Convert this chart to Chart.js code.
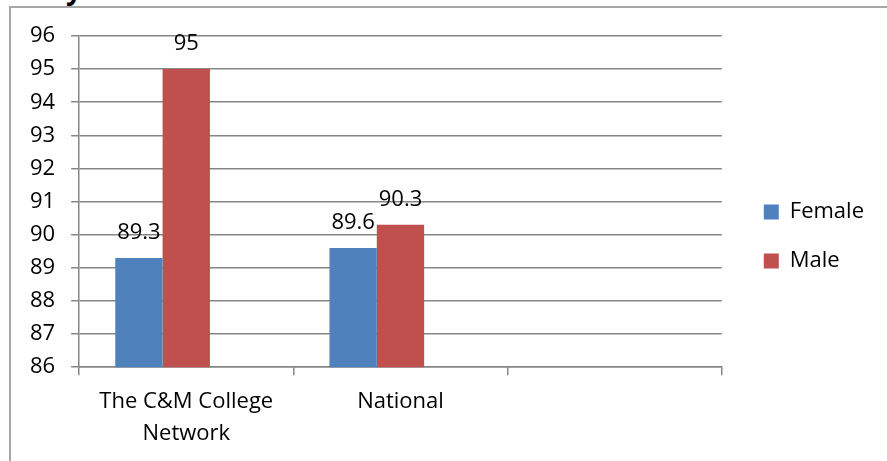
<!DOCTYPE html>
<html>
<head>
<meta charset="utf-8">
<script src="https://cdn.jsdelivr.net/npm/chart.js@4"></script>
<style>
  html, body { margin: 0; padding: 0; background: #fff; }
  #wrap { position: relative; width: 887px; height: 461px; overflow: hidden; }
  #frame { position: absolute; left: 9px; top: 6px; width: 900px; height: 500px;
           border-top: 2px solid #a6a6a6; border-left: 2px solid #a6a6a6; box-sizing: border-box; }
  #cut { position: absolute; left: 66px; top: -31px; font: bold 28px "Open Sans", sans-serif; color: #000; }
  canvas { position: absolute; left: 0; top: 0; }
</style>
</head>
<body>
<div id="wrap">
  <div id="frame"></div>
  <div id="cut">y</div>
  <canvas id="chart" width="887" height="461"></canvas>
</div>
<script>
const categories = [["The C&M College", "Network"], "National", ""];
const female = [89.3, 89.6, null];
const male = [95, 90.3, null];
const yTicks = [86, 87, 88, 89, 90, 91, 92, 93, 94, 95, 96];

const FONT = '"Open Sans", "Liberation Sans", sans-serif';
const FS = 22;
const GRID = '#868686';

// draws the value above each bar, like Excel data labels
const valueLabels = {
  id: 'valueLabels',
  afterDatasetsDraw(chart) {
    const ctx = chart.ctx;
    ctx.save();
    ctx.font = FS + 'px ' + FONT;
    ctx.fillStyle = '#000';
    ctx.textAlign = 'center';
    ctx.textBaseline = 'middle';
    chart.data.datasets.forEach((ds, i) => {
      const meta = chart.getDatasetMeta(i);
      meta.data.forEach((bar, j) => {
        const v = ds.data[j];
        if (v == null) return;
        ctx.fillText(String(v), bar.x, bar.y - 25);
      });
    });
    ctx.restore();
  }
};

// nudge the legend box, Excel keeps it further from the plot
const legendShift = {
  id: 'legendShift',
  afterLayout(chart) {
    const lg = chart.legend;
    if (!lg) return;
    const dx = 15, dy = 138;
    lg.left += dx; lg.right += dx;
    lg.top += dy; lg.bottom += dy;
  }
};

new Chart(document.getElementById('chart'), {
  type: 'bar',
  data: {
    labels: categories,
    datasets: [
      { label: 'Female', data: female, backgroundColor: '#4F81BD' },
      { label: 'Male', data: male, backgroundColor: '#C0504D' },
      { label: '', data: [null, null, null], backgroundColor: 'rgba(0,0,0,0)' }
    ]
  },
  options: {
    responsive: false,
    animation: false,
    layout: { padding: { left: 14, right: 28, top: 36, bottom: 0 } },
    datasets: { bar: { categoryPercentage: 0.663, barPercentage: 1 } },
    plugins: {
      tooltip: { enabled: false },
      legend: {
        position: 'right',
        align: 'start',
        filter: item => item.text !== '',
        labels: { boxWidth: 15, boxHeight: 15, padding: 27, color: '#000', font: { family: FONT, size: FS } }
      }
    },
    scales: {
      x: {
        grid: { drawOnChartArea: false, drawTicks: true, tickLength: 8, color: GRID, lineWidth: 1.5 },
        border: { color: GRID, width: 1.5 },
        ticks: { color: '#000', padding: 11, maxRotation: 0, font: { family: FONT, size: FS, lineHeight: 1.45 } }
      },
      y: {
        min: 86,
        max: 96,
        afterBuildTicks: axis => { axis.ticks = yTicks.map(v => ({ value: v })); },
        grid: { color: GRID, lineWidth: 1.5, tickLength: 8 },
        border: { color: GRID, width: 1.5 },
        ticks: { color: '#000', padding: 16, font: { family: FONT, size: FS } }
      }
    }
  },
  plugins: [valueLabels, legendShift]
});
</script>
</body>
</html>
